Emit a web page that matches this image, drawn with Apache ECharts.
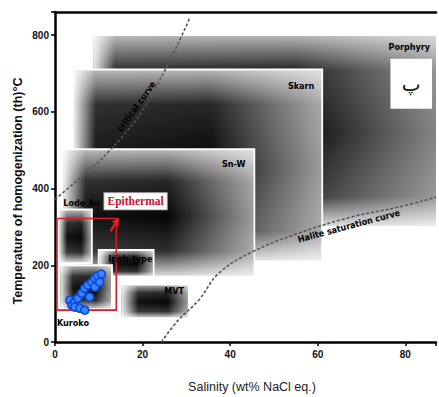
<!DOCTYPE html>
<html>
<head>
<meta charset="utf-8">
<script src="https://cdn.jsdelivr.net/npm/echarts@6/dist/echarts.min.js"></script>
<style>
html,body{margin:0;padding:0;background:#fff;}
#chart{width:439px;height:397px;}
</style>
</head>
<body>
<div id="chart"></div>
<script>
// ---- data ----
const xTickValues = [0, 20, 40, 60, 80];
const yTickValues = [0, 200, 400, 600, 800];
const boxNames   = ['Porphyry', 'Skarn', 'Sn-W', 'Lode Au', 'Irish-type', 'MVT', 'Kuroko'];
const boxSalMin  = [8.5, 4.1, 1.8, 0.7, 10, 15, 1];
const boxSalMax  = [93, 61, 45.5, 8.4, 22.5, 30.5, 13];
const boxThMin   = [300, 210, 170, 205, 170, 62, 85];
const boxThMax   = [800, 710, 502, 345, 240, 150, 200];
const boxLabelSal = [80.9, 56.2, 40.8, 6.1, 17.2, 27.2, 4.1];
const boxLabelTh  = [770, 668, 465, 361, 216, 133, 49];
const criticalSal = [0, 5, 10, 12.5, 15, 20, 25.4, 28, 30.8];
const criticalTh  = [372, 420, 470, 499, 530, 603, 715, 775, 845];
const haliteSal = [24.3, 28, 32.8, 37.4, 44.9, 55.5, 67.5, 78.2, 87];
const haliteTh  = [0, 55, 109, 179, 234, 283, 325, 351, 377];
const sampleSal = [3.4, 3.85, 4.5, 4.5, 5.2, 5.7, 6.1, 6.8, 6.8, 7.5, 7.9, 8.4, 9.1, 9.1, 9.7, 10.2, 10.6];
const sampleTh  = [109, 96, 104, 91, 114, 88, 127, 140, 83, 148, 117, 156, 166, 143, 172, 156, 177];
const epithermalSal = [0.45, 14.0];
const epithermalTh  = [83, 322];
const epithermalArrowSal = [12.7, 14.5];
const epithermalArrowTh  = [289, 322];
const curveLabels = ['critical curve', 'Halite saturation curve'];
const curveLabelSal = [18.6, 67.1];
const curveLabelTh  = [614, 302];
const epiLabel = 'Epithermal';
const epiLabelSal = 18.4, epiLabelTh = 367;
const panelLetter = 'پ';
const panelSal = [76.6, 86.1];
const panelTh  = [608, 738];
const xName = 'Salinity (wt% NaCl eq.)';
const yName = 'Temperature of homogenization (th)°C';

// ---- build ----
const boxData = boxNames.map((n, i) => [boxSalMin[i], boxSalMax[i], boxThMin[i], boxThMax[i], n]);
const labelData = boxNames.map((n, i) => [boxLabelSal[i], boxLabelTh[i], n]);
const critData = criticalSal.map((v, i) => [v, criticalTh[i]]);
const halData = haliteSal.map((v, i) => [v, haliteTh[i]]);
const sampleData = sampleSal.map((v, i) => [v, sampleTh[i]]);

function vGrad(h) {
  const t1 = Math.min(35, h * 0.25) / h, b1 = 1 - Math.min(30, h * 0.2) / h;
  return {type: 'linear', x: 0, y: 0, x2: 0, y2: 1, colorStops: [
    {offset: 0, color: '#b8b8b8'}, {offset: t1, color: '#262626'},
    {offset: (t1 + b1) / 2, color: '#050505'}, {offset: b1, color: '#303030'},
    {offset: 1, color: '#e0e0e0'}]};
}
function hGrad(w) {
  const l = Math.min(0.25, 22 / w);
  const r = w > 150 ? 0.55 : 0.7;
  return {type: 'linear', x: 0, y: 0, x2: 1, y2: 0, colorStops: [
    {offset: 0, color: 'rgba(255,255,255,0.92)'}, {offset: l, color: 'rgba(255,255,255,0.05)'},
    {offset: r, color: 'rgba(255,255,255,0)'}, {offset: 1, color: 'rgba(255,255,255,0.6)'}]};
}

const chart = echarts.init(document.getElementById('chart'), null, {renderer: 'svg'});
const tickFont = {fontFamily: 'Liberation Sans', fontWeight: 'bold', fontSize: 10, color: '#111'};
const smallLabel = 'bold 9px "DejaVu Sans Condensed", "DejaVu Sans"';

chart.setOption({
  animation: false,
  grid: {left: 55, top: 12, right: 0, bottom: 55},
  xAxis: [{
    type: 'value', min: 0, max: 87, interval: 20,
    axisLine: {lineStyle: {color: '#000', width: 2.5}},
    axisTick: {length: 4, lineStyle: {color: '#000', width: 1.5}},
    splitLine: {show: false},
    axisLabel: Object.assign({margin: 7, formatter: v => xTickValues.includes(v) ? String(v) : ''}, tickFont)
  }, {
    type: 'value', position: 'top', min: 0, max: 87,
    axisLine: {show: true, lineStyle: {color: '#000', width: 2.5}},
    axisTick: {show: false}, axisLabel: {show: false}, splitLine: {show: false}
  }],
  yAxis: {
    type: 'value', min: 0, max: 860, interval: 200,
    axisLine: {show: true, lineStyle: {color: '#000', width: 2.5}},
    axisTick: {show: true, length: 4, lineStyle: {color: '#000', width: 1.5}},
    splitLine: {show: false},
    axisLabel: Object.assign({margin: 6, formatter: v => yTickValues.includes(v) ? String(v) : ''}, tickFont)
  },
  graphic: [
    {type: 'text', x: 18, y: 191, rotation: Math.PI / 2,
     style: {text: yName, font: 'bold 12.5px "Liberation Sans"', fill: '#111', align: 'center', verticalAlign: 'middle'}},
    {type: 'text', x: 252, y: 387,
     style: {text: xName, font: '12.5px "Liberation Sans"', fill: '#222', align: 'center', verticalAlign: 'middle'}}
  ],
  series: [
    {
      type: 'custom', z: 1, clip: true, data: boxData,
      renderItem: (params, api) => {
        const p0 = api.coord([api.value(0), api.value(3)]);
        const p1 = api.coord([api.value(1), api.value(2)]);
        const x = p0[0], y = p0[1], w = p1[0] - p0[0], h = p1[1] - p0[1];
        return {type: 'group', children: [
          {type: 'rect', shape: {x, y, width: w, height: h}, style: {fill: vGrad(h), stroke: '#fff', lineWidth: 2}},
          {type: 'rect', shape: {x: x + 1, y: y + 1, width: w - 2, height: h - 2}, style: {fill: hGrad(w)}}
        ]};
      }
    },
    {
      type: 'line', z: 3, data: critData, smooth: 0.4, showSymbol: false,
      lineStyle: {color: '#555', width: 1.6, type: [3, 2]}
    },
    {
      type: 'line', z: 3, data: halData, smooth: 0.4, showSymbol: false,
      lineStyle: {color: '#555', width: 1.6, type: [3, 2]}
    },
    {
      type: 'custom', z: 4, data: [[epithermalSal[0], epithermalSal[1], epithermalTh[0], epithermalTh[1]]],
      renderItem: (params, api) => {
        const p0 = api.coord([api.value(0), api.value(3)]);
        const p1 = api.coord([api.value(1), api.value(2)]);
        return {type: 'rect', shape: {x: p0[0], y: p0[1], width: p1[0] - p0[0], height: p1[1] - p0[1]},
                style: {fill: 'none', stroke: '#d0202a', lineWidth: 1.6}};
      }
    },
    {
      type: 'lines', coordinateSystem: 'cartesian2d', z: 4,
      symbol: ['none', 'arrow'], symbolSize: 7,
      lineStyle: {color: '#e0202a', width: 2.5, opacity: 1},
      data: [{coords: [[epithermalArrowSal[0], epithermalArrowTh[0]], [epithermalArrowSal[1], epithermalArrowTh[1]]]}]
    },
    {
      type: 'scatter', z: 5, data: sampleData, symbolSize: 8,
      itemStyle: {color: '#3d84ff', borderColor: '#0b48e0', borderWidth: 1.6, opacity: 1}
    },
    {
      type: 'custom', z: 6, data: labelData,
      renderItem: (params, api) => {
        const p = api.coord([api.value(0), api.value(1)]);
        return {type: 'text', x: p[0], y: p[1],
                style: {text: api.value(2), font: smallLabel, fill: '#000', align: 'center', verticalAlign: 'middle'}};
      }
    },
    {
      type: 'custom', z: 6, data: curveLabels.map((t, i) => [curveLabelSal[i], curveLabelTh[i], t, i]),
      renderItem: (params, api) => {
        const p = api.coord([api.value(0), api.value(1)]);
        const rot = api.value(3) === 0 ? 54 : 15;
        return {type: 'text', x: p[0], y: p[1], rotation: rot * Math.PI / 180,
                style: {text: api.value(2), font: smallLabel, fill: '#000', align: 'center', verticalAlign: 'middle'}};
      }
    },
    {
      type: 'custom', z: 7, data: [[epiLabelSal, epiLabelTh, epiLabel]],
      renderItem: (params, api) => {
        const p = api.coord([api.value(0), api.value(1)]);
        return {type: 'text', x: p[0], y: p[1],
                style: {text: api.value(2), font: 'bold 11.5px "Liberation Serif", "DejaVu Serif"', fill: '#c8102e',
                        align: 'center', verticalAlign: 'middle', backgroundColor: '#fff',
                        borderColor: '#bbb', borderWidth: 1, padding: [2, 3]}};
      }
    },
    {
      type: 'custom', z: 7, data: [[panelSal[0], panelSal[1], panelTh[0], panelTh[1], panelLetter]],
      renderItem: (params, api) => {
        const p0 = api.coord([api.value(0), api.value(3)]);
        const p1 = api.coord([api.value(1), api.value(2)]);
        return {type: 'group', children: [
          {type: 'rect', shape: {x: p0[0], y: p0[1], width: p1[0] - p0[0], height: p1[1] - p0[1]}, style: {fill: '#fff'}},
          {type: 'text', x: (p0[0] + p1[0]) / 2, y: (p0[1] + p1[1]) / 2,
           style: {text: api.value(4), font: '20px "DejaVu Sans"', fill: '#111', align: 'center', verticalAlign: 'middle'}}
        ]};
      }
    }
  ]
});
</script>
</body>
</html>
